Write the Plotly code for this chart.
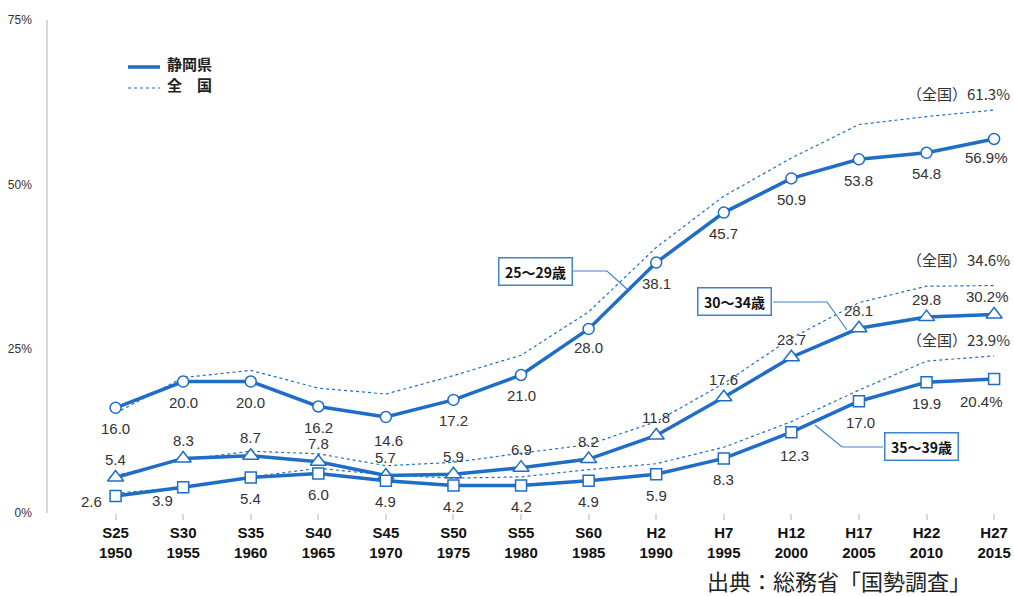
import plotly.graph_objects as go

# ---------------- data ----------------
categories = ["S25<br>1950", "S30<br>1955", "S35<br>1960", "S40<br>1965", "S45<br>1970",
              "S50<br>1975", "S55<br>1980", "S60<br>1985", "H2<br>1990", "H7<br>1995",
              "H12<br>2000", "H17<br>2005", "H22<br>2010", "H27<br>2015"]

shizuoka_25_29 = [16.0, 20.0, 20.0, 16.2, 14.6, 17.2, 21.0, 28.0, 38.1, 45.7, 50.9, 53.8, 54.8, 56.9]
shizuoka_30_34 = [5.4, 8.3, 8.7, 7.8, 5.7, 5.9, 6.9, 8.2, 11.8, 17.6, 23.7, 28.1, 29.8, 30.2]
shizuoka_35_39 = [2.6, 3.9, 5.4, 6.0, 4.9, 4.2, 4.2, 4.9, 5.9, 8.3, 12.3, 17.0, 19.9, 20.4]

national_25_29 = [15.2, 20.6, 21.7, 19.0, 18.1, 20.9, 24.0, 30.6, 40.4, 48.2, 54.0, 59.1, 60.3, 61.3]
national_30_34 = [5.7, 8.1, 9.4, 9.0, 7.2, 7.7, 9.1, 10.4, 13.9, 19.7, 26.6, 32.0, 34.5, 34.6]
national_35_39 = [3.0, 3.9, 5.5, 6.8, 5.8, 5.3, 5.5, 6.6, 7.5, 10.0, 13.9, 18.7, 23.1, 23.9]

y_ticks = [0, 25, 50, 75]
y_tick_labels = ["0%", "25%", "50%", "75%"]

group_names = ["25～29歳", "30～34歳", "35～39歳"]
legend_names = ["静岡県", "全　国"]
source_text = "出典：総務省「国勢調査」"

# ---------------- style ----------------
BLUE = "#1f6dc6"
TEXT = "#333333"
NUM_FONT = "Liberation Sans, Arial, sans-serif"
JP_FONT = "Noto Sans CJK JP, sans-serif"

W, H = 1014, 596
ML, MR, MT, MB = 48, 3, 20, 83
PW, PH = W - ML - MR, H - MT - MB


def px(xp):
    return (xp - ML) / PW


def py(yp):
    return 1 - (yp - MT) / PH


x_idx = list(range(len(categories)))

fig = go.Figure()

# national (dashed) lines
for nat in [national_25_29, national_30_34, national_35_39]:
    fig.add_trace(go.Scatter(x=x_idx, y=nat, mode="lines",
                             line=dict(color=BLUE, width=1.2, dash="3px,3px"),
                             hoverinfo="skip", showlegend=False))

# Shizuoka (solid) lines
for vals, sym, size in [(shizuoka_25_29, "circle", 11),
                        (shizuoka_30_34, "triangle-up", 14),
                        (shizuoka_35_39, "square", 11)]:
    fig.add_trace(go.Scatter(x=x_idx, y=vals, mode="lines+markers",
                             line=dict(color=BLUE, width=3.5),
                             marker=dict(symbol=sym, size=size, color="white",
                                         line=dict(color=BLUE, width=1.5)),
                             showlegend=False))

annotations = []
n = len(categories)

# value label offsets (pixels)
off_25 = [[0, -21] for _ in range(n)]
off_25[4] = [3, -23]
off_25[7] = [0, -19]
off_25[-1] = [-8, -19]

off_30 = [[0, 18] for _ in range(n)]
off_30[-1] = [-7, 18]

off_35 = [[0, -21] for _ in range(n)]
off_35[0] = [-24, -6]
off_35[1] = [-21, -13]
off_35[10] = [3, -23]
off_35[11] = [2, -21]
off_35[-1] = [-13, -23]

for vals, offs in [(shizuoka_25_29, off_25), (shizuoka_30_34, off_30), (shizuoka_35_39, off_35)]:
    for i, v in enumerate(vals):
        txt = f"{v:.1f}" + ("%" if i == n - 1 else "")
        annotations.append(dict(x=i, y=v, xref="x", yref="y", text=txt, showarrow=False,
                                xanchor="center", yanchor="middle",
                                xshift=offs[i][0], yshift=offs[i][1],
                                font=dict(family=NUM_FONT, size=15, color=TEXT)))

# national end labels
for nat, ys in [(national_25_29, 17), (national_30_34, 26), (national_35_39, 16)]:
    annotations.append(dict(x=n - 1, y=nat[-1], xref="x", yref="y",
                            text=f"（全国）{nat[-1]:.1f}%", showarrow=False,
                            xanchor="right", yanchor="middle", xshift=18, yshift=ys,
                            font=dict(family=JP_FONT, size=15, color=TEXT)))

# boxed group labels with leader lines
boxes = [(535, 271.5, [(573, 271), (607, 271), (628, 290)]),
         (734, 301.5, [(773, 302), (827, 302), (847, 330)]),
         (921, 446.5, [(883, 447), (842, 447), (815, 425)])]
shapes = []
for name, (cx, cy, pts) in zip(group_names, boxes):
    annotations.append(dict(x=px(cx), y=py(cy), xref="paper", yref="paper", text=f"<b>{name}</b>",
                            xanchor="center", yanchor="middle",
                            showarrow=False, bgcolor="white", bordercolor="#3f82cf",
                            borderwidth=1.5, borderpad=3, width=66,
                            font=dict(family=JP_FONT, size=14, color="#111111")))
    path = "M " + " L ".join(f"{px(a)},{py(b)}" for a, b in pts)
    shapes.append(dict(type="path", path=path, xref="paper", yref="paper",
                       line=dict(color="#3f82cf", width=1.2)))

# legend
shapes.append(dict(type="line", xref="paper", yref="paper", x0=px(128), x1=px(160),
                   y0=py(67), y1=py(67), line=dict(color=BLUE, width=3.5)))
shapes.append(dict(type="line", xref="paper", yref="paper", x0=px(128), x1=px(160),
                   y0=py(88), y1=py(88), line=dict(color=BLUE, width=1.2, dash="3px,3px")))
for name, yy in zip(legend_names, [64, 84]):
    annotations.append(dict(x=px(165), y=py(yy), xref="paper", yref="paper", text=f"<b>{name}</b>",
                            xanchor="left", yanchor="middle", showarrow=False,
                            font=dict(family=JP_FONT, size=15, color="#222222")))

# source
annotations.append(dict(x=px(705), y=py(580), xref="paper", yref="paper", text=source_text,
                        xanchor="left", yanchor="middle", showarrow=False,
                        font=dict(family=JP_FONT, size=22, color="#222222")))

fig.update_layout(
    width=W, height=H, autosize=False,
    margin=dict(l=ML, r=MR, t=MT, b=MB),
    paper_bgcolor="white", plot_bgcolor="white",
    annotations=annotations, shapes=shapes,
    showlegend=False,
)
fig.update_xaxes(range=[-1, 13.25], tickvals=x_idx, ticktext=categories,
                 showgrid=False, zeroline=False, showline=False,
                 ticks="outside", ticklen=6, tickwidth=2, tickcolor="#d9d9d9",
                 tickfont=dict(family=NUM_FONT, size=15, color="#111111", weight="bold"))
fig.update_yaxes(range=[0, 75], tickvals=y_ticks, ticktext=y_tick_labels,
                 showgrid=False, zeroline=False, showline=True, linecolor="#d9d9d9", linewidth=1.5,
                 ticks="", ticklabelstandoff=12,
                 tickfont=dict(family=NUM_FONT, size=12, color=TEXT))

fig.write_html("out.html")
